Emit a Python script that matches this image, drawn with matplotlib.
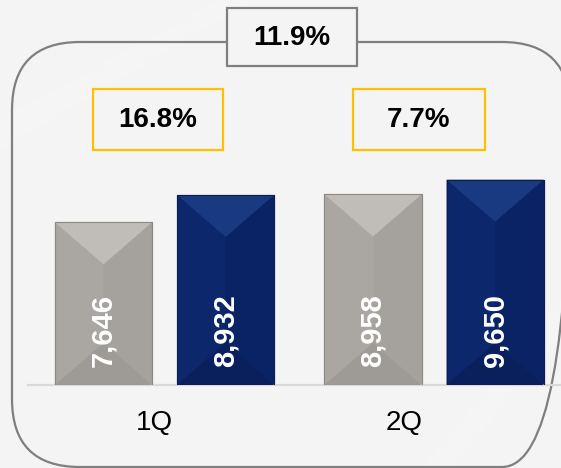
import matplotlib
matplotlib.use("Agg")
import matplotlib.pyplot as plt
from matplotlib.patches import FancyBboxPatch, Rectangle, Polygon

plt.rcParams['font.family'] = ['Liberation Sans', 'DejaVu Sans']

quarters = ["1Q", "2Q"]
prev_vals = [7646, 8958]
curr_vals = [8932, 9650]
growth = ["16.8%", "7.7%"]
total_growth = "11.9%"

W, H = 561, 468
bg_col = '#f4f4f4'

fig = plt.figure(figsize=(W / 100, H / 100), dpi=100, facecolor=bg_col)

# background layer in pixel units: frame, boxes, faint sheen
bg = fig.add_axes([0, 0, 1, 1], zorder=0)
bg.set_xlim(0, W)
bg.set_ylim(H, 0)
bg.axis('off')
bg.add_patch(Polygon([(0, 150), (0, 120), (230, -5), (260, -5)], closed=True,
                     fc='white', ec='none', alpha=0.18))
bg.add_patch(Polygon([(420, 470), (450, 470), (565, 330), (565, 295)], closed=True,
                     fc='white', ec='none', alpha=0.18))

frame = FancyBboxPatch((12, 42), 558, 425, boxstyle="round,pad=0,rounding_size=68",
                       fc='none', ec='#7f7f7f', lw=1.6)
bg.add_patch(frame)

bg.add_patch(Rectangle((227, 8), 130, 58, fc=bg_col, ec='#7f7f7f', lw=1.6))
bg.text(292, 38, total_growth, ha='center', va='center', fontsize=20, fontweight='bold')

box_x = [(93, 130), (353, 132)]
for (bx, bw), g in zip(box_x, growth):
    bg.add_patch(Rectangle((bx, 89), bw, 61, fc=bg_col, ec='#ffc000', lw=1.6))
    bg.text(bx + bw / 2, 120, g, ha='center', va='center', fontsize=20, fontweight='bold')

# bar chart
ax = fig.add_axes([28 / W, 83 / H, 533 / W, 385 / H], zorder=1)
ax.set_facecolor('none')
ax.set_xlim(-0.5065, 1.471)
ax.set_ylim(0, 18100)
for s in ['top', 'right', 'left']:
    ax.spines[s].set_visible(False)
ax.spines['bottom'].set_color('#d9d9d9')
ax.spines['bottom'].set_linewidth(1.6)
ax.set_yticks([])
ax.set_xticks([])

off = 0.2265
width = 0.36
px_y = 385 / 18100.0
bevel = 42 / px_y

styles = [
    dict(main='#a8a4a0', top='#c0bcb8', bot='#9e9a96', left='#aaa6a2', right='#a5a19d', edge='#8c8884'),
    dict(main='#0b2568', top='#193980', bot='#09205c', left='#0c276b', right='#0a2364', edge='#0a1d52'),
]

xs = list(range(len(quarters)))
for vals, sign, st in [(prev_vals, -1, styles[0]), (curr_vals, 1, styles[1])]:
    pos = [x + sign * off for x in xs]
    bars = ax.bar(pos, vals, width, color=st['main'], edgecolor=st['edge'], linewidth=0.8, zorder=2)
    for b, v in zip(bars, vals):
        x0 = b.get_x()
        x1 = x0 + b.get_width()
        xc = (x0 + x1) / 2
        ax.add_patch(Polygon([(x0, 0), (xc, bevel), (xc, v - bevel), (x0, v)],
                             closed=True, fc=st['left'], ec='none', zorder=3))
        ax.add_patch(Polygon([(x1, 0), (xc, bevel), (xc, v - bevel), (x1, v)],
                             closed=True, fc=st['right'], ec='none', zorder=3))
        ax.add_patch(Polygon([(x0, v), (x1, v), (xc, v - bevel)],
                             closed=True, fc=st['top'], ec='none', zorder=3))
        ax.add_patch(Polygon([(x0, 0), (x1, 0), (xc, bevel)],
                             closed=True, fc=st['bot'], ec='none', zorder=3))
        ax.add_patch(Rectangle((x0, 0), x1 - x0, v, fc='none', ec=st['edge'], lw=0.8, zorder=4))
        ax.annotate(f"{v:,}", xy=(xc, 0), xytext=(0, 13), textcoords='offset points',
                    rotation=90, ha='center', va='bottom', color='white',
                    fontsize=21, fontweight='bold', zorder=5)

label_x = [-0.039, 0.889]
for lx, q in zip(label_x, quarters):
    ax.text(lx, -38 / px_y, q, ha='center', va='center', fontsize=20, clip_on=False)

fig.savefig("out.png", dpi=100, facecolor=bg_col)
